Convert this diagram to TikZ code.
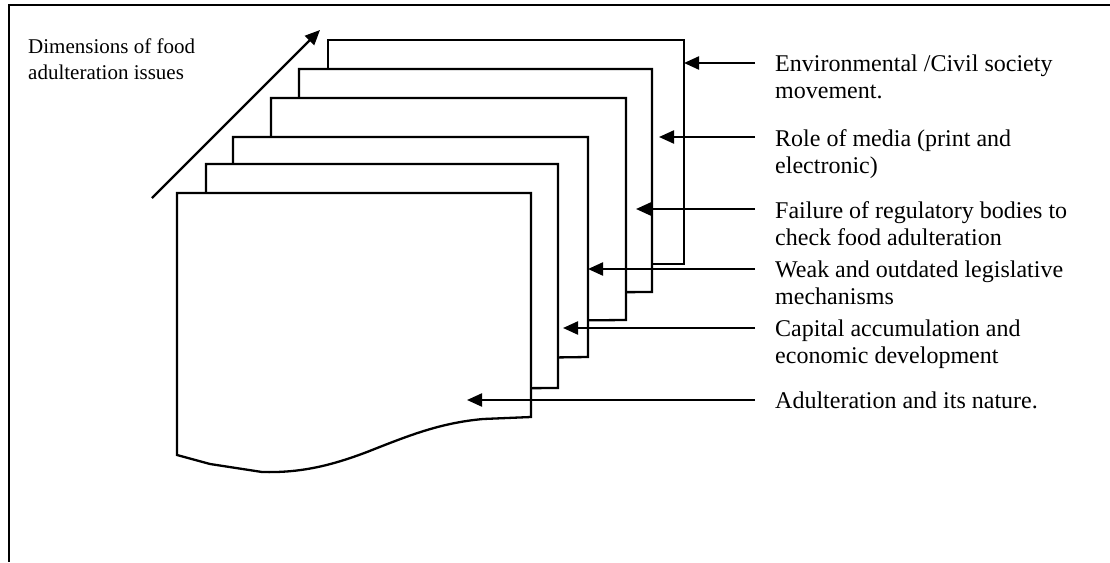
\documentclass[tikz,border=0pt]{standalone}
\usepackage{fontspec}
\setmainfont{Liberation Serif}
\usetikzlibrary{arrows.meta}
\begin{document}
\begin{tikzpicture}[x=1pt,y=-1pt,
  frame/.style={line width=2.6pt},
  page/.style={draw=black,fill=white,line width=2.3pt,line join=miter},
  arr/.style={line width=2.2pt,-{Triangle[length=15pt,width=13pt]}},
  lbl/.style={anchor=north west,inner sep=0pt,align=left,font=\fontsize{24}{27}\selectfont},
  dimlbl/.style={anchor=north west,inner sep=0pt,align=left,font=\fontsize{21}{26}\selectfont}]
\useasboundingbox (0,0) rectangle (1110,562);
% frame (top and left only)
\draw[frame] (1110,5) -- (9,5) -- (9,562);
% pages, back to front
\draw[page] (328,264) -- (328,40) -- (684,40) -- (684,264) -- cycle;
\draw[page] (299,294) -- (299,69) -- (652,69) -- (652,292) -- cycle;
\draw[page] (271,323) -- (271,98) -- (626,98) -- (626,320) -- cycle;
\draw[page] (233,362) -- (233,137) -- (588,137) -- (588,357) -- cycle;
\draw[page] (206,390) -- (206,164) -- (558,164) -- (558,388) -- cycle;
\draw[page] (177,455) -- (177,193) -- (531,193) -- (531,417) -- (483,419)
  .. controls (440,423) and (410,435) .. (367,452)
  .. controls (330,466) and (300,473) .. (262,472)
  -- (210,464) -- cycle;
% dimension arrow
\coordinate (d0) at (152,198);
\coordinate (d1) at (320,30);
\draw[arr] (d0) -- (d1);
\node[dimlbl] (dim) at (28,39) {Dimensions of food\\adulteration issues};
% labels
\node[lbl] (l6) at (775,55) {Environmental /Civil society\\movement.};
\node[lbl] (l5) at (775,129) {Role of media (print and\\electronic)};
\node[lbl] (l4) at (775,201) {Failure of regulatory bodies to\\check food adulteration};
\node[lbl] (l3) at (775,261) {Weak and outdated legislative\\mechanisms};
\node[lbl] (l2) at (775,320) {Capital accumulation and\\economic development};
\node[lbl] (l1) at (775,392) {Adulteration and its nature.};
% arrow coordinates
\coordinate (s6) at (755,63);  \coordinate (t6) at (684,63);
\coordinate (s5) at (755,137); \coordinate (t5) at (659,137);
\coordinate (s4) at (755,209); \coordinate (t4) at (636,209);
\coordinate (s3) at (755,269); \coordinate (t3) at (588,269);
\coordinate (s2) at (755,328); \coordinate (t2) at (563,328);
\coordinate (s1) at (755,400); \coordinate (t1) at (467,400);
\foreach \i in {1,...,6} {\draw[arr] (s\i) -- (t\i);}
\end{tikzpicture}
\end{document}
